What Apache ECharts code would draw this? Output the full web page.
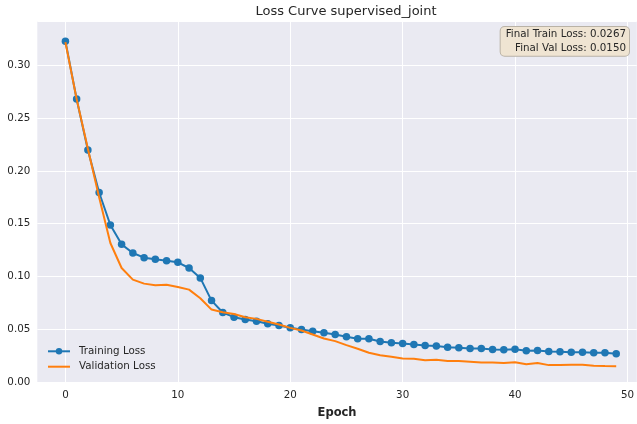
<!DOCTYPE html>
<html>
<head>
<meta charset="utf-8">
<script src="https://cdn.jsdelivr.net/npm/echarts@6/dist/echarts.min.js"></script>
<style>
  html, body { margin: 0; padding: 0; background: #ffffff; }
  #chart { width: 637px; height: 424px; }
</style>
</head>
<body>
<div id="chart"></div>
<script>
// Per-epoch losses for the supervised_joint run
const epochs = [0, 1, 2, 3, 4, 5, 6, 7, 8, 9, 10, 11, 12, 13, 14, 15, 16, 17, 18, 19,
  20, 21, 22, 23, 24, 25, 26, 27, 28, 29, 30, 31, 32, 33, 34, 35, 36, 37, 38, 39,
  40, 41, 42, 43, 44, 45, 46, 47, 48, 49];

const trainLoss = [0.3229, 0.2680, 0.2198, 0.1795, 0.1487, 0.1304, 0.1222, 0.1178, 0.1162, 0.1149,
  0.1134, 0.1080, 0.0986, 0.0771, 0.0658, 0.0614, 0.0592, 0.0576, 0.0551, 0.0535,
  0.0513, 0.0497, 0.0481, 0.0466, 0.0450, 0.0428, 0.0409, 0.0409, 0.0384, 0.0371,
  0.0365, 0.0355, 0.0346, 0.0340, 0.0330, 0.0324, 0.0318, 0.0318, 0.0308, 0.0305,
  0.0311, 0.0296, 0.0299, 0.0289, 0.0286, 0.0283, 0.0283, 0.0277, 0.0277, 0.0267];

const valLoss = [0.3220, 0.2680, 0.2210, 0.1750, 0.1317, 0.1080, 0.0970, 0.0932, 0.0916, 0.0922,
  0.0900, 0.0875, 0.0793, 0.0686, 0.0660, 0.0645, 0.0614, 0.0598, 0.0570, 0.0544,
  0.0513, 0.0488, 0.0450, 0.0412, 0.0387, 0.0349, 0.0315, 0.0277, 0.0254, 0.0239,
  0.0222, 0.0220, 0.0207, 0.0210, 0.0198, 0.0198, 0.0192, 0.0185, 0.0185, 0.0179,
  0.0188, 0.0169, 0.0179, 0.0160, 0.0160, 0.0163, 0.0163, 0.0154, 0.0151, 0.0150];

const xTicks = [0, 10, 20, 30, 40, 50];

const FONT = 'DejaVu Sans';
const TEXT = '#262626';

const pairs = (ys) => epochs.map((e, i) => [e, ys[i]]);

const finalTrain = trainLoss[trainLoss.length - 1].toFixed(4);
const finalVal = valLoss[valLoss.length - 1].toFixed(4);

const chart = echarts.init(document.getElementById('chart'), null, { renderer: 'canvas' });

chart.setOption({
  animation: false,
  backgroundColor: '#ffffff',
  textStyle: { fontFamily: FONT },
  title: {
    text: 'Loss Curve supervised_joint',
    left: 341,
    textAlign: 'center',
    top: 0,
    textStyle: { fontFamily: FONT, fontSize: 13, fontWeight: 'normal', color: TEXT }
  },
  grid: {
    left: 37.3,
    right: 0,
    top: 21,
    bottom: 41.7,
    show: true,
    backgroundColor: '#EAEAF2',
    borderWidth: 0
  },
  xAxis: {
    type: 'value',
    min: -2.5,
    max: 50.83,
    name: 'Epoch',
    nameLocation: 'middle',
    nameGap: 25,
    nameTextStyle: { fontFamily: FONT, fontSize: 11.5, fontWeight: 'bold', color: TEXT },
    axisLine: { show: false },
    axisTick: { show: false, customValues: xTicks },
    axisLabel: {
      customValues: xTicks,
      fontFamily: FONT, fontSize: 10.3, color: TEXT, margin: 8
    },
    splitLine: { show: true, lineStyle: { color: '#ffffff', width: 1 } }
  },
  yAxis: {
    type: 'value',
    min: 0,
    max: 0.342,
    interval: 0.05,
    axisLine: { show: false },
    axisTick: { show: false },
    axisLabel: {
      fontFamily: FONT, fontSize: 10.3, color: TEXT, margin: 7,
      formatter: (v) => v.toFixed(2),
      showMaxLabel: false
    },
    splitLine: { show: true, lineStyle: { color: '#ffffff', width: 1 } }
  },
  legend: {
    orient: 'vertical',
    left: 47,
    top: 346.3,
    padding: 0,
    itemWidth: 22,
    itemHeight: 8,
    itemGap: 5.4,
    symbolKeepAspect: true,
    textStyle: { fontFamily: FONT, fontSize: 10.3, color: TEXT, padding: [0, 0, 0, 4], lineHeight: 10 },
    data: [
      'Training Loss',
      { name: 'Validation Loss', icon: 'path://M0 0H22V2H0Z' }
    ]
  },
  series: [
    {
      name: 'Training Loss',
      type: 'line',
      data: pairs(trainLoss),
      symbol: 'circle',
      symbolSize: 7.5,
      showAllSymbol: true,
      color: '#1f77b4',
      lineStyle: { width: 2, color: '#1f77b4' },
      itemStyle: { color: '#1f77b4' },
      z: 2
    },
    {
      name: 'Validation Loss',
      type: 'line',
      data: pairs(valLoss),
      symbol: 'none',
      color: '#ff7f0e',
      lineStyle: { width: 2, color: '#ff7f0e' },
      itemStyle: { color: '#ff7f0e' },
      z: 3
    }
  ],
  graphic: [
    {
      type: 'text',
      x: 629,
      y: 27,
      z: 10,
      style: {
        text: 'Final Train Loss: ' + finalTrain + '\nFinal Val Loss: ' + finalVal,
        align: 'right',
        verticalAlign: 'top',
        fontFamily: FONT,
        fontSize: 10.3,
        lineHeight: 13.4,
        fill: TEXT,
        backgroundColor: '#EFE4D2',
        borderColor: '#B9B2A6',
        borderWidth: 1,
        borderRadius: 4,
        padding: [1, 3, 1, 5]
      }
    }
  ]
});
</script>
</body>
</html>
